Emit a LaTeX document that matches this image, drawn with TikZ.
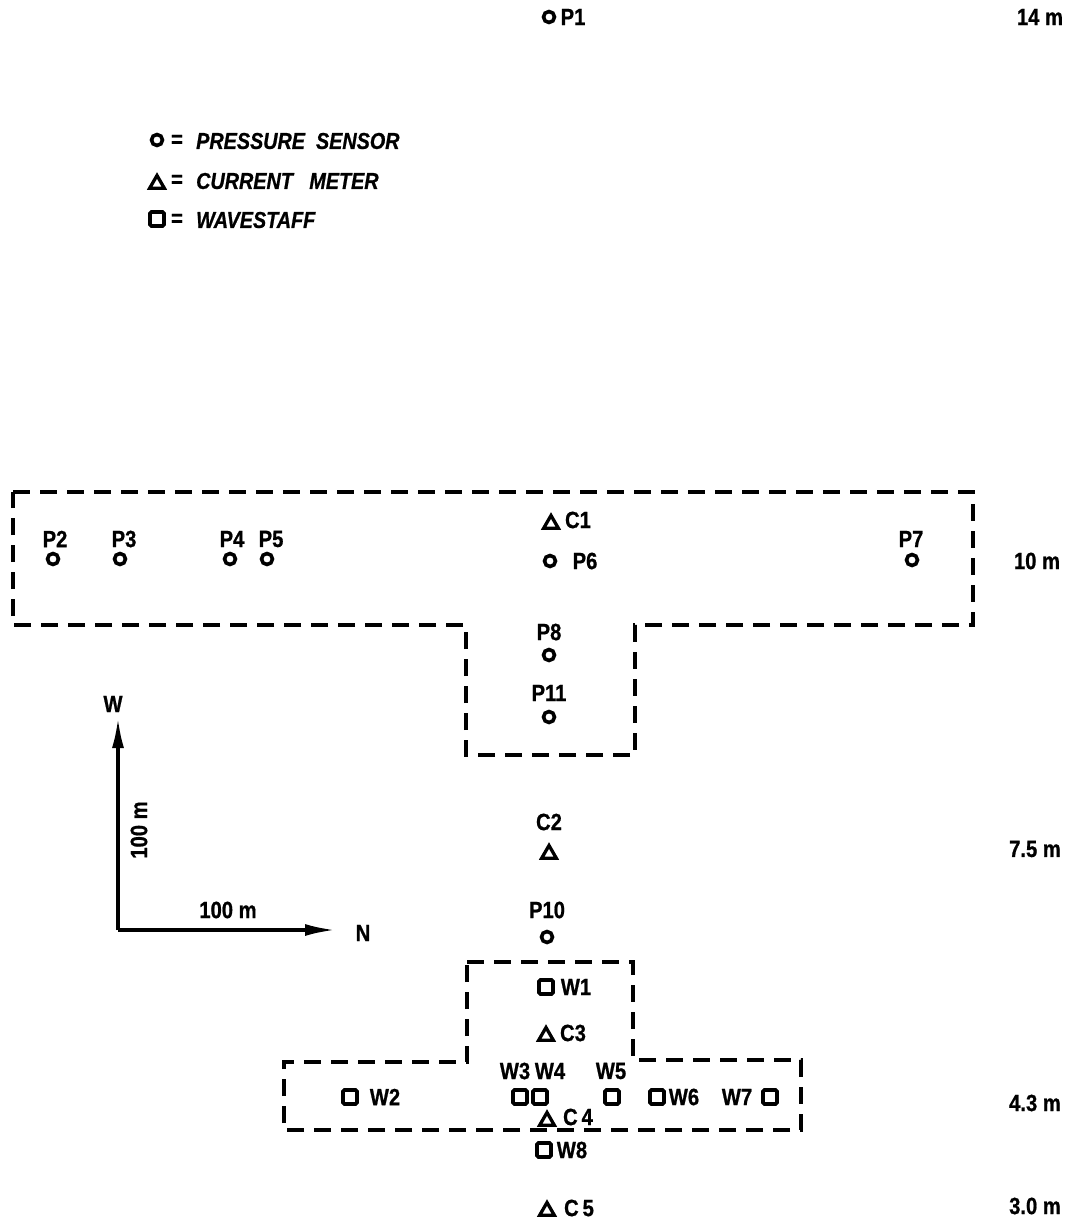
\documentclass[tikz,border=0pt]{standalone}
\usepackage{fontspec}
\setmainfont{Liberation Sans}[FakeStretch=0.86]
\newfontfamily\labfont{Liberation Sans}[FakeStretch=0.86,FakeBold=0.8]
\usetikzlibrary{shapes.geometric,arrows.meta}
\tikzset{
  sym/.style={draw=black, line width=3.6pt, inner sep=0pt, fill=none},
  psens/.style={sym, circle, minimum size=11pt},
  wstaff/.style={sym, rectangle, minimum size=14pt, rounded corners=1.5pt},
  cmeter/.style={sym, regular polygon, regular polygon sides=3, minimum size=17pt, line width=3.3pt},
  lab/.style={font=\labfont\fontsize{23.5}{23.5}\selectfont\bfseries, inner sep=0pt},
  leg/.style={font=\labfont\fontsize{23}{23}\selectfont\bfseries\itshape, inner sep=0pt, anchor=west},
  depth/.style={font=\labfont\fontsize{23.5}{23.5}\selectfont\bfseries, inner sep=0pt},
  area/.style={draw=black, line width=3.5pt, dash pattern=on 17pt off 10pt},
  axis/.style={draw=black, line width=3.2pt, -{Latex[length=30pt,width=12pt]}}
}
\begin{document}
\begin{tikzpicture}[x=1pt,y=-1pt]
\useasboundingbox (0,0) rectangle (1080,1220);

% dashed areas
\draw[area] (13,492) -- (973,492) -- (973,625) -- (635,625) -- (635,755) -- (466,755) -- (466,625) -- (13,625) -- cycle;
\draw[area] (467,962) -- (633,962) -- (633,1060) -- (801,1060) -- (801,1130) -- (284,1130) -- (284,1062) -- (467,1062) -- cycle;

% legend
\node[psens] (legP) at (157,140) {};
\node[lab] (legPeq) at (177,141) {=};
\node[leg] (legPt) at (196,141) {PRESSURE\ \ SENSOR};
\node[cmeter] (legC) at (157,184) {};
\node[lab] (legCeq) at (177,181) {=};
\node[leg] (legCt) at (196,181) {CURRENT\ \ \ METER};
\node[wstaff] (legW) at (157,219) {};
\node[lab] (legWeq) at (177,220) {=};
\node[leg] (legWt) at (196,220) {WAVESTAFF};

% pressure sensors
\node[psens] (P1) at (549,17) {};   \node[lab] (lP1) at (573,17) {P1};
\node[psens] (P2) at (53,559) {};   \node[lab] (lP2) at (55,539) {P2};
\node[psens] (P3) at (120,559) {};  \node[lab] (lP3) at (124,539) {P3};
\node[psens] (P4) at (230,559) {};  \node[lab] (lP4) at (232,539) {P4};
\node[psens] (P5) at (267,559) {};  \node[lab] (lP5) at (271,539) {P5};
\node[psens] (P6) at (550,561) {};  \node[lab] (lP6) at (585,561) {P6};
\node[psens] (P7) at (912,560) {};  \node[lab] (lP7) at (911,539) {P7};
\node[psens] (P8) at (549,655) {};  \node[lab] (lP8) at (549,632) {P8};
\node[psens] (P11) at (549,717) {}; \node[lab] (lP11) at (549,693) {P11};
\node[psens] (P10) at (547,937) {}; \node[lab] (lP10) at (547,910) {P10};

% current meters
\node[cmeter] (C1) at (551,524) {}; \node[lab] (lC1) at (578,520) {C1};
\node[cmeter] (C2) at (549,854) {}; \node[lab] (lC2) at (549,822) {C2};
\node[cmeter] (C3) at (546,1036) {}; \node[lab] (lC3) at (573,1033) {C3};
\node[cmeter] (C4) at (547,1121) {}; \node[lab] (lC4) at (578,1117) {C\,4};
\node[cmeter] (C5) at (547,1211) {}; \node[lab] (lC5) at (579,1208) {C\,5};

% wavestaffs
\node[wstaff] (W1) at (546,987) {};  \node[lab] (lW1) at (576,987) {W1};
\node[wstaff] (W2) at (350,1097) {}; \node[lab] (lW2) at (385,1097) {W2};
\node[wstaff] (W3) at (520,1097) {}; \node[lab] (lW3) at (515,1071) {W3};
\node[wstaff] (W4) at (540,1097) {}; \node[lab] (lW4) at (550,1071) {W4};
\node[wstaff] (W5) at (612,1097) {}; \node[lab] (lW5) at (611,1071) {W5};
\node[wstaff] (W6) at (657,1097) {}; \node[lab] (lW6) at (684,1097) {W6};
\node[wstaff] (W7) at (770,1097) {}; \node[lab] (lW7) at (737,1097) {W7};
\node[wstaff] (W8) at (544,1150) {}; \node[lab] (lW8) at (572,1150) {W8};

% depths
\node[depth] (d14) at (1040,17) {14 m};
\node[depth] (d10) at (1037,561) {10 m};
\node[depth] (d75) at (1035,849) {7.5 m};
\node[depth] (d43) at (1035,1103) {4.3 m};
\node[depth] (d30) at (1035,1206) {3.0 m};

% compass / scale
\coordinate (O) at (118,930);
\coordinate (tipW) at (118,718);
\coordinate (tipN) at (335,930);
\node[lab] (Wl) at (113,704) {W};
\node[lab] (Nl) at (363,933) {N};
\draw[axis] (O) -- (tipW);
\draw[axis] (O) -- (tipN);
\node[lab, rotate=90] (sv) at (139,830) {100 m};
\node[lab] (sh) at (228,910) {100 m};
\end{tikzpicture}
\end{document}
